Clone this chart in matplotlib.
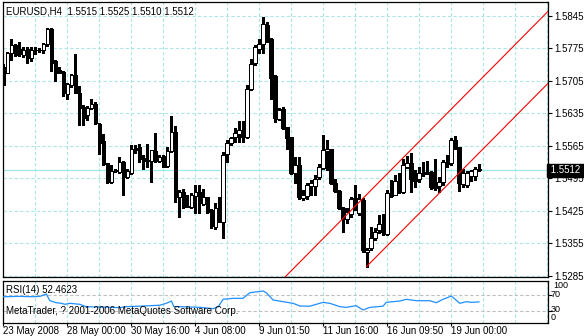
import matplotlib
matplotlib.use("Agg")
import matplotlib.pyplot as plt
import matplotlib.transforms as mtransforms

plt.rcParams['font.family'] = ['Liberation Sans', 'DejaVu Sans']
plt.rcParams['font.size'] = 7

# EURUSD H4 candles (one value per bar, left to right)
opens = [1.5735, 1.5722, 1.5765, 1.5782, 1.5774, 1.5761, 1.5773, 1.5755, 1.5772, 1.5771,
         1.5772, 1.5785, 1.5816, 1.5747, 1.5729, 1.5724, 1.5676, 1.5695, 1.5717, 1.5678,
         1.5649, 1.5632, 1.5647, 1.5656, 1.5613, 1.5575, 1.5527, 1.5487, 1.5511, 1.5509,
         1.5531, 1.5498, 1.5507, 1.5561, 1.5563, 1.5538, 1.5533, 1.5533, 1.5554, 1.5533,
         1.5543, 1.5522, 1.5554, 1.5594, 1.5454, 1.5466, 1.5434, 1.5434, 1.5456, 1.5466,
         1.5440, 1.5454, 1.5427, 1.5391, 1.5430, 1.5401, 1.5547, 1.5570, 1.5584, 1.5590,
         1.5599, 1.5584, 1.5688, 1.5744, 1.5774, 1.5785, 1.5825, 1.5796, 1.5715, 1.5622,
         1.5644, 1.5606, 1.5583, 1.5507, 1.5523, 1.5453, 1.5457, 1.5479, 1.5479, 1.5497,
         1.5518, 1.5554, 1.5558, 1.5484, 1.5467, 1.5432, 1.5408, 1.5419, 1.5451, 1.5421,
         1.5448, 1.5337, 1.5344, 1.5366, 1.5384, 1.5397, 1.5376, 1.5463, 1.5460, 1.5488,
         1.5466, 1.5520, 1.5529, 1.5497, 1.5494, 1.5504, 1.5507, 1.5509, 1.5480, 1.5478,
         1.5488, 1.5525, 1.5527, 1.5578, 1.5562, 1.5483, 1.5481, 1.5500, 1.5500, 1.5515]
highs = [1.5742, 1.5767, 1.5794, 1.5785, 1.5789, 1.5777, 1.5778, 1.5777, 1.5777, 1.5775,
         1.5787, 1.5818, 1.5818, 1.5749, 1.5735, 1.5726, 1.5700, 1.5719, 1.5762, 1.5693,
         1.5652, 1.5650, 1.5665, 1.5659, 1.5614, 1.5591, 1.5528, 1.5523, 1.5515, 1.5541,
         1.5532, 1.5514, 1.5566, 1.5566, 1.5568, 1.5545, 1.5568, 1.5556, 1.5592, 1.5545,
         1.5545, 1.5563, 1.5629, 1.5608, 1.5470, 1.5473, 1.5458, 1.5463, 1.5481, 1.5481,
         1.5471, 1.5455, 1.5428, 1.5441, 1.5454, 1.5552, 1.5577, 1.5585, 1.5603, 1.5619,
         1.5619, 1.5695, 1.5751, 1.5782, 1.5796, 1.5843, 1.5832, 1.5798, 1.5717, 1.5647,
         1.5649, 1.5606, 1.5584, 1.5541, 1.5541, 1.5469, 1.5484, 1.5491, 1.5502, 1.5525,
         1.5588, 1.5577, 1.5559, 1.5494, 1.5469, 1.5433, 1.5430, 1.5455, 1.5481, 1.5462,
         1.5452, 1.5344, 1.5391, 1.5389, 1.5416, 1.5418, 1.5470, 1.5492, 1.5502, 1.5506,
         1.5536, 1.5542, 1.5550, 1.5513, 1.5520, 1.5531, 1.5533, 1.5510, 1.5536, 1.5498,
         1.5534, 1.5545, 1.5581, 1.5586, 1.5563, 1.5514, 1.5511, 1.5513, 1.5520, 1.5525]
lows = [1.5695, 1.5721, 1.5749, 1.5758, 1.5758, 1.5756, 1.5744, 1.5748, 1.5762, 1.5767,
        1.5765, 1.5779, 1.5726, 1.5705, 1.5721, 1.5672, 1.5666, 1.5692, 1.5678, 1.5609,
        1.5609, 1.5620, 1.5644, 1.5613, 1.5547, 1.5523, 1.5484, 1.5485, 1.5508, 1.5507,
        1.5460, 1.5495, 1.5505, 1.5550, 1.5531, 1.5516, 1.5520, 1.5486, 1.5531, 1.5531,
        1.5519, 1.5520, 1.5552, 1.5445, 1.5411, 1.5430, 1.5433, 1.5431, 1.5421, 1.5421,
        1.5437, 1.5421, 1.5389, 1.5385, 1.5401, 1.5366, 1.5531, 1.5567, 1.5574, 1.5574,
        1.5574, 1.5581, 1.5685, 1.5739, 1.5765, 1.5765, 1.5789, 1.5665, 1.5616, 1.5620,
        1.5602, 1.5559, 1.5505, 1.5484, 1.5451, 1.5449, 1.5451, 1.5459, 1.5459, 1.5494,
        1.5516, 1.5512, 1.5482, 1.5466, 1.5428, 1.5379, 1.5398, 1.5412, 1.5426, 1.5415,
        1.5337, 1.5305, 1.5341, 1.5362, 1.5377, 1.5373, 1.5373, 1.5455, 1.5459, 1.5464,
        1.5464, 1.5517, 1.5466, 1.5477, 1.5488, 1.5499, 1.5504, 1.5473, 1.5470, 1.5466,
        1.5481, 1.5520, 1.5524, 1.5558, 1.5468, 1.5477, 1.5477, 1.5490, 1.5491, 1.5510]
closes = [1.5697, 1.5764, 1.5782, 1.5760, 1.5762, 1.5772, 1.5755, 1.5772, 1.5771, 1.5772,
          1.5785, 1.5816, 1.5744, 1.5722, 1.5722, 1.5679, 1.5698, 1.5717, 1.5679, 1.5647,
          1.5625, 1.5647, 1.5655, 1.5614, 1.5571, 1.5525, 1.5487, 1.5510, 1.5512, 1.5531,
          1.5497, 1.5510, 1.5559, 1.5556, 1.5537, 1.5533, 1.5534, 1.5555, 1.5533, 1.5541,
          1.5520, 1.5554, 1.5594, 1.5454, 1.5466, 1.5434, 1.5436, 1.5459, 1.5466, 1.5441,
          1.5454, 1.5423, 1.5392, 1.5432, 1.5404, 1.5545, 1.5572, 1.5581, 1.5592, 1.5600,
          1.5585, 1.5688, 1.5742, 1.5777, 1.5785, 1.5827, 1.5798, 1.5711, 1.5624, 1.5642,
          1.5604, 1.5581, 1.5507, 1.5523, 1.5455, 1.5458, 1.5480, 1.5484, 1.5494, 1.5520,
          1.5555, 1.5558, 1.5484, 1.5468, 1.5430, 1.5408, 1.5423, 1.5451, 1.5452, 1.5451,
          1.5341, 1.5340, 1.5366, 1.5380, 1.5397, 1.5380, 1.5463, 1.5457, 1.5489, 1.5466,
          1.5524, 1.5529, 1.5494, 1.5490, 1.5507, 1.5507, 1.5508, 1.5476, 1.5475, 1.5488,
          1.5530, 1.5528, 1.5578, 1.5561, 1.5485, 1.5506, 1.5507, 1.5511, 1.5516, 1.5512]

# RSI(14) read at its turning points: bar index and value
rsi_bars = [0, 4, 7.5, 9.2, 10.8, 11.7, 13.3, 14.6, 15.4, 16.7, 19.2, 20.8, 26.7, 29.2,
            30.8, 34.2, 39.2, 40.8, 42.1, 42.7, 44.2, 49.2, 52.5, 53.8, 55, 57.5, 60,
            61.7, 65, 65.8, 67.5, 70, 72.5, 74.2, 76.7, 80, 81.7, 84.2, 85.8, 88.3, 90,
            91.7, 95, 95.8, 99.2, 100.8, 103.3, 106.7, 108.3, 110, 112.1, 114.2, 115.8,
            117.1, 119]
rsi_vals = [65.6, 66.5, 65.6, 66.5, 72.5, 55.5, 50.4, 48.8, 46.3, 48.8, 46.3, 40.3, 38.6,
            37.8, 40.3, 41.5, 44.0, 48.8, 54.7, 40.3, 40.3, 38.6, 35.2, 40.3, 59.0, 61.5,
            61.5, 75.8, 80.2, 75.8, 57.3, 53.0, 48.8, 42.0, 41.5, 51.3, 48.8, 40.3, 38.6,
            42.8, 31.8, 38.6, 41.5, 51.3, 54.7, 59.0, 55.5, 55.5, 50.4, 59.0, 67.4, 48.8,
            53.0, 51.3, 52.5]

# equidistant channel: two parallel lines, (bar, price) end points
chan_upper_x = [70, 137]
chan_upper_y = [1.5278, 1.5861]
chan_lower_x = [90.9, 137]
chan_lower_y = [1.5305, 1.5706]

price_ticks = [1.5285, 1.5355, 1.5425, 1.5495, 1.5565, 1.5635, 1.5705, 1.5775, 1.5845]
date_bars = [0, 16, 32, 48, 64, 80, 96, 112]
date_labels = ['23 May 2008', '28 May 00:00', '30 May 16:00', '4 Jun 08:00',
               '9 Jun 01:50', '11 Jun 16:00', '16 Jun 09:50', '19 Jun 00:00']
last_price = 1.5512
rsi_last = 52.4623

grid_col = '#aee6e6'
W, H = 584, 336

fig = plt.figure(figsize=(W / 100, H / 100), dpi=100)
ax = fig.add_axes([2.5 / W, 1 - 277 / H, 545.5 / W, 275 / H])
ax_rsi = fig.add_axes([2.5 / W, 1 - 322.7 / H, 545.5 / W, 42 / H], sharex=ax)

bars = list(range(len(opens)))
xmax = 136.25

for a in (ax, ax_rsi):
    for b in range(8, int(xmax) + 1, 8):
        a.axvline(b, color=grid_col, lw=0.8, ls=(0, (3, 2)), zorder=0)
    for s in a.spines.values():
        s.set_linewidth(0.9)
        s.set_color('black')

for p in price_ticks:
    ax.axhline(p, color=grid_col, lw=0.8, ls=(0, (3, 2)), zorder=0)
ax.axhline(last_price, color='#9eeaea', lw=0.9, zorder=1)

# candles: wick first, then body on top
ax.vlines(bars, lows, highs, color='black', lw=0.75, zorder=2, antialiased=False)
body_h = [c - o for o, c in zip(opens, closes)]
body_c = ['white' if c >= o else 'black' for o, c in zip(opens, closes)]
ax.bar(bars, body_h, bottom=opens, width=0.78, color=body_c, edgecolor='black',
       linewidth=0.72, zorder=3, antialiased=False)

ax.plot(chan_upper_x, chan_upper_y, color='red', lw=0.8, zorder=4)
ax.plot(chan_lower_x, chan_lower_y, color='red', lw=0.8, zorder=4)

ax.set_xlim(-0.15, xmax)
ax.set_ylim(1.52824, 1.58747)
ax.yaxis.tick_right()
ax.set_yticks(price_ticks)
ax.set_yticklabels([f'{p:.4f}' for p in price_ticks])
ax.tick_params(axis='y', length=3, width=0.8, pad=1.5, labelsize=7)
ax.tick_params(axis='x', length=0, labelbottom=False)

ax.text(1.0, last_price, f' {last_price:.4f} ', transform=mtransforms.blended_transform_factory(ax.transAxes, ax.transData),
        ha='left', va='center', color='white', fontsize=7, clip_on=False, zorder=10,
        bbox=dict(boxstyle='square,pad=0.15', fc='black', ec='black'))
ax.text(4 / 545.5, 1 - 9 / 275, f'EURUSD,H4  {opens[-1]:.4f} {highs[-1]:.4f} {lows[-1]:.4f} {closes[-1]:.4f}',
        transform=ax.transAxes, ha='left', va='center', fontsize=7)

# RSI sub window
ax_rsi.plot(rsi_bars, rsi_vals, color='#1e90ff', lw=0.9, zorder=3)
for lvl in (30, 70):
    ax_rsi.axhline(lvl, color='#c0c0c0', lw=0.8, ls=(0, (3, 2)), zorder=1)
ax_rsi.set_ylim(-0.5, 106.4)
ax_rsi.yaxis.tick_right()
ax_rsi.set_yticks([30, 70])
ax_rsi.set_yticklabels([])
ax_rsi.tick_params(axis='y', length=3, width=0.8)
ax_rsi.set_xticks(date_bars)
ax_rsi.set_xticklabels(date_labels, ha='left')
ax_rsi.tick_params(axis='x', length=2, width=0.8, pad=0.5, labelsize=7)
tr = mtransforms.blended_transform_factory(ax_rsi.transAxes, ax_rsi.transData)
for txt, yv, dx in (('100', 93, 5), ('70', 72, 3), ('30', 33, 3), ('0', 14, 3)):
    ax_rsi.text(1 + dx / 545.5, yv, txt, transform=tr, ha='left', va='center', fontsize=6.5, clip_on=False)
ax_rsi.text(4 / 545.5, 84, f'RSI(14) {rsi_last:.4f}', transform=tr, ha='left', va='center', fontsize=7)
ax_rsi.text(4 / 545.5, 30, 'MetaTrader, ? 2001-2006 MetaQuotes Software Corp.', transform=tr,
            ha='left', va='center', fontsize=7)

fig.savefig('out.png', dpi=100)
